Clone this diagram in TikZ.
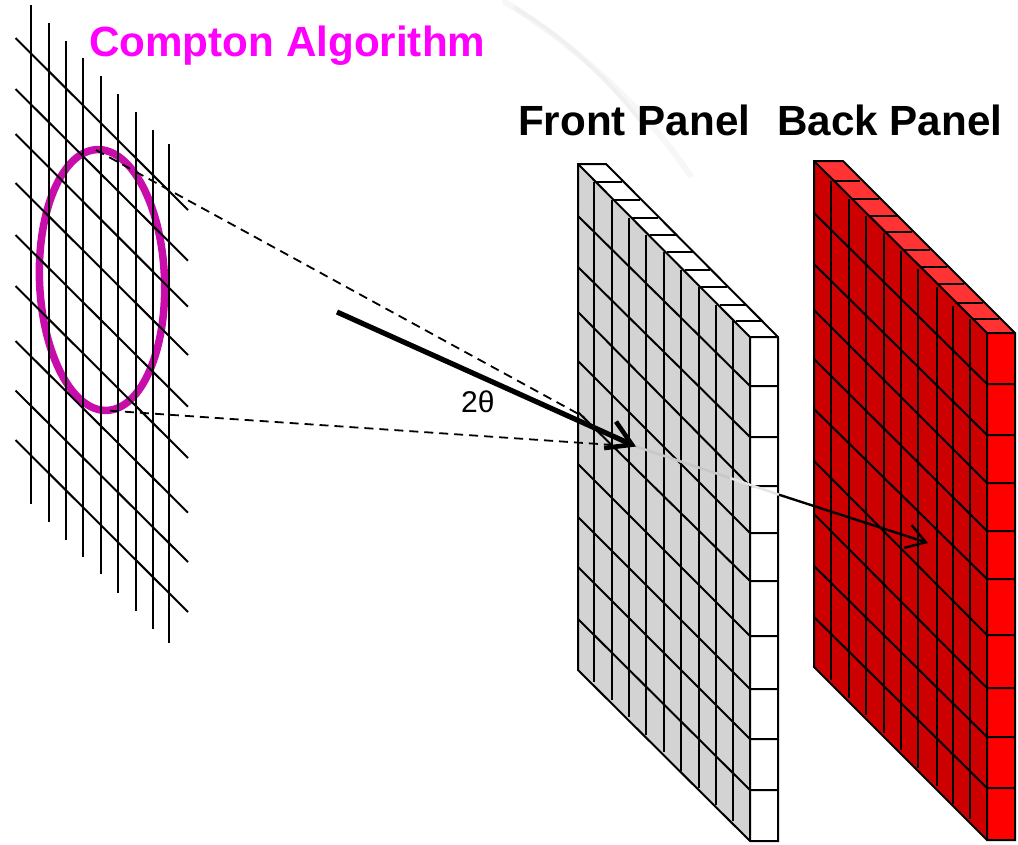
\documentclass[tikz,border=0pt]{standalone}
\usepackage{fontspec}
\setmainfont{Liberation Sans}
\usetikzlibrary{arrows.meta}
\definecolor{ringc}{RGB}{200,14,170}
\definecolor{redtop}{RGB}{255,51,51}
\definecolor{redside}{RGB}{204,0,0}
\definecolor{grayside}{RGB}{211,211,211}
\definecolor{titlemag}{RGB}{255,0,255}
\tikzset{
  gridline/.style={black,line width=2pt},
  panelline/.style={black,line width=2pt,line join=miter},
  sightline/.style={black,line width=1.8pt,dash pattern=on 9pt off 6pt},
  title/.style={font=\bfseries\fontsize{42.2}{48}\selectfont,anchor=base west,inner sep=0pt},
}
\begin{document}
\begin{tikzpicture}[x=1pt,y=-1pt]
\useasboundingbox (0,0) rectangle (1018,844);
% faint background streaks
\draw[black!3,line width=6pt,line cap=round] (505,2) .. controls (560,35) and (640,100) .. (690,175);
\draw[black!6,line width=4pt,line cap=round] (515,8) .. controls (560,35) and (600,70) .. (640,120);

% ring
\draw[ringc,line width=7.5pt,rotate around={2.2:(102,280)}] (102,280) ellipse [x radius=62.5,y radius=130.5];
% left grid
\foreach \x/\t/\b in {30.5/5/504,49/23/522,66/41/539.5,83/58/556.5,100.5/75.5/574,118/94/592.5,136/112/610.5,152.5/130/628.5,169/144/642.5}
  \draw[gridline] (\x,\t) -- (\x,\b);
\foreach \a/\b in {38/210,89/260.7,134/306.7,183/355,235/406.7,286/458,341/512.7,390.5/562,440/612}
  \draw[gridline] (15.5,\a) -- (188,\b);

% front panel
\fill[grayside] (578,164) -- (750,337) -- (750,841) -- (578,670) -- cycle;
\fill[white] (578,164) -- (606,164) -- (778,337) -- (778,841) -- (750,841) -- (750,337) -- cycle;
\foreach \x/\t/\b in {593.5/182/682,612/200/700,629/218/717,646/235/735,664/252/752,681/270/771,699/287/788,715.5/305/805,733/321/821}
  \draw[panelline] (\x,\t) -- (\x,\b);
\foreach \a/\b in {216/386,267/437,312/486,361/533,412/581,464/636,517/689,567/739,619/790}
  \draw[panelline] (578,\a) -- (750,\b) -- (777,\b);
\foreach \x/\y/\e in {596/182/622,614/200/640,632/218/658,650/235/676,667/252/693,685/270/710,701/287/727,720/305/746,736/321/762}
  \draw[panelline] (\x,\y) -- (\e,\y);
\draw[panelline] (578,670) -- (578,164) -- (606,164) -- (778,337) -- (778,841) -- (750,841) -- cycle;
\draw[panelline] (578,164) -- (750,337) -- (778,337) (750,337) -- (750,841);

% back panel
\fill[redside] (814,161) -- (987,333) -- (987,840) -- (814,667) -- cycle;
\fill[redtop] (814,161) -- (843,161) -- (1015,333) -- (987,333) -- cycle;
\fill[red] (987,333) -- (1015,333) -- (1015,840) -- (987,840) -- cycle;
\foreach \x/\t/\b in {831/181/680,849/199/698,866/216/715,884/233/733,901/251/750,918/269/768,937/287/786,953/306/804,970/319/819}
  \draw[panelline] (\x,\t) -- (\x,\b);
\foreach \a/\b in {213/384,264/435,310/483,359/531,409/579,461/635,514/688,566/737,617/788}
  \draw[panelline] (814,\a) -- (987,\b) -- (1014,\b);
\foreach \x/\y/\e in {833/181/860,851/199/879,869/216/897,885/232/912,903/250/930,920/267/947,938/284/964,955/303/983,972/319/999}
  \draw[panelline] (\x,\y) -- (\e,\y);
\draw[panelline] (814,667) -- (814,161) -- (843,161) -- (1015,333) -- (1015,840) -- (987,840) -- cycle;
\draw[panelline] (814,161) -- (987,333) -- (1015,333) (987,333) -- (987,840);

% rays
\coordinate (ringtop) at (96,150);
\coordinate (ringbot) at (110,410.7);
\coordinate (hit) at (584,417);
\coordinate (hitlow) at (628,446);
\coordinate (rayin) at (337,312);
\coordinate (raytip) at (636,446.5);
\coordinate (rayout) at (779,494.7);
\coordinate (rayend) at (928,543);
\draw[sightline] (ringtop) -- (hit);
\draw[sightline] (ringbot) -- (hitlow);
\draw[black!22,line width=2.5pt] (raytip) -- (730,478);
\draw[black!10,line width=2.5pt] (730,478) -- (rayout);
\draw[black,line width=5.2pt,-{Straight Barb[length=24pt,width=29pt,line width=4.6pt]}] (rayin) -- (raytip);
\draw[black,line width=2.4pt,-{Straight Barb[length=19pt,width=24pt,line width=2.4pt]}] (rayout) -- (rayend);

% labels
\node[title,text=titlemag] (compton) at (89,56) {Compton Algorithm};
\node[title,text=black] (front) at (518,135) {Front Panel};
\node[title,text=black] (back) at (777,135) {Back Panel};
\node[anchor=base west,inner sep=0pt,font=\fontsize{30}{34}\selectfont] (angle) at (461,412) {2θ};
\end{tikzpicture}
\end{document}
